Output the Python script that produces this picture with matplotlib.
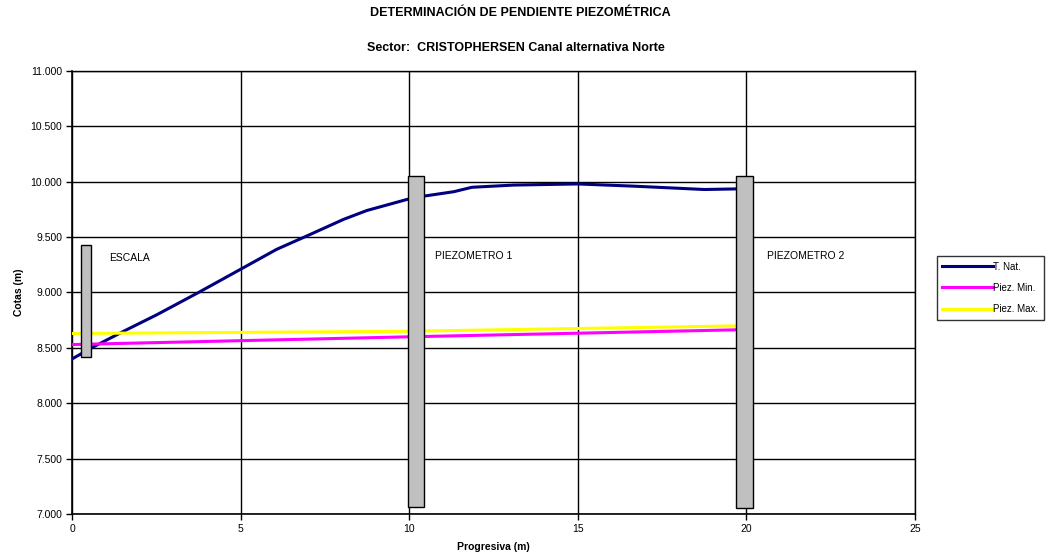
import matplotlib
matplotlib.use("Agg")
import matplotlib.pyplot as plt
from matplotlib.patches import Rectangle
from matplotlib.ticker import FuncFormatter, MultipleLocator

plt.rcParams['font.family'] = ['Liberation Sans', 'DejaVu Sans']

# Terreno natural (T. Nat.)
prog_terreno = [0, 0.64, 1.53, 2.52, 3.75, 5.0, 6.07, 6.96, 8.05, 8.74, 9.93,
                10.43, 11.32, 11.86, 13.1, 15.0, 16.67, 18.75, 19.64, 20.0]
cota_terreno = [8.40, 8.51, 8.65, 8.80, 9.00, 9.21, 9.39, 9.51, 9.66, 9.74, 9.84,
                9.87, 9.91, 9.95, 9.97, 9.98, 9.96, 9.93, 9.935, 9.94]

# Niveles piezométricos
prog_piez = [0, 10, 20]
piez_min = [8.53, 8.60, 8.665]
piez_max = [8.63, 8.65, 8.70]

# Instrumentos: nombre, progresiva izquierda, ancho, cota inferior, cota superior
inst_nombres = ["ESCALA", "PIEZOMETRO 1", "PIEZOMETRO 2"]
inst_x0 = [0.26, 9.95, 19.7]
inst_ancho = [0.29, 0.5, 0.5]
inst_cota_inf = [8.415, 7.066, 7.05]
inst_cota_sup = [9.43, 10.05, 10.05]
etiqueta_x = [1.1, 10.77, 20.62]
etiqueta_y = [9.31, 9.33, 9.33]

x_ticks = [0, 5, 10, 15, 20, 25]

fig = plt.figure(figsize=(10.53, 5.59), dpi=100)
ax = fig.add_axes([0.0684, 0.0805, 0.8006, 0.7925])

ax.plot(prog_terreno, cota_terreno, color='#000080', lw=2.2, label='T. Nat.', zorder=3)
ax.plot(prog_piez, piez_min, color='#FF00FF', lw=2.2, label='Piez. Min.', zorder=3)
ax.plot(prog_piez, piez_max, color='#FFFF00', lw=2.2, label='Piez. Max.', zorder=3)

for x0, w, y0, y1 in zip(inst_x0, inst_ancho, inst_cota_inf, inst_cota_sup):
    ax.add_patch(Rectangle((x0, y0), w, y1 - y0, facecolor='#C0C0C0',
                           edgecolor='black', lw=1.0, zorder=4))

for nombre, tx, ty in zip(inst_nombres, etiqueta_x, etiqueta_y):
    ax.text(tx, ty, nombre, fontsize=7.5, va='center', ha='left', zorder=5)

ax.set_xlim(0, 25)
ax.set_ylim(7.0, 11.0)
ax.set_xticks(x_ticks)
ax.yaxis.set_major_locator(MultipleLocator(0.5))
ax.yaxis.set_major_formatter(FuncFormatter(lambda v, p: f"{v:.3f}"))
ax.grid(True, color='black', lw=1.0, zorder=1)
ax.set_axisbelow(True)
for s in ax.spines.values():
    s.set_linewidth(1.2)
    s.set_color('black')
ax.spines['top'].set_linewidth(1.0)
ax.spines['right'].set_linewidth(1.0)
ax.tick_params(axis='both', labelsize=7.5, length=4, width=1.0, direction='out', pad=3)

ax.set_xlabel('Progresiva (m)', fontsize=7.5, fontweight='bold', labelpad=6)
ax.set_ylabel('Cotas (m)', fontsize=7.5, fontweight='bold', labelpad=5)

fig.text(0.494, 0.976, 'DETERMINACIÓN DE PENDIENTE PIEZOMÉTRICA', ha='center', va='center',
         fontsize=9, fontweight='bold')
fig.text(0.490, 0.914, 'Sector:  CRISTOPHERSEN Canal alternativa Norte', ha='center',
         va='center', fontsize=9, fontweight='bold')

leg = ax.legend(loc='upper left', bbox_to_anchor=(0.8895, 0.5425), bbox_transform=fig.transFigure,
                fontsize=7, frameon=True, fancybox=False, edgecolor='black',
                handlelength=5.2, handletextpad=0.0, labelspacing=1.15,
                borderpad=0.6, borderaxespad=0)
leg.get_frame().set_linewidth(1.0)

fig.savefig('out.png', dpi=100)
